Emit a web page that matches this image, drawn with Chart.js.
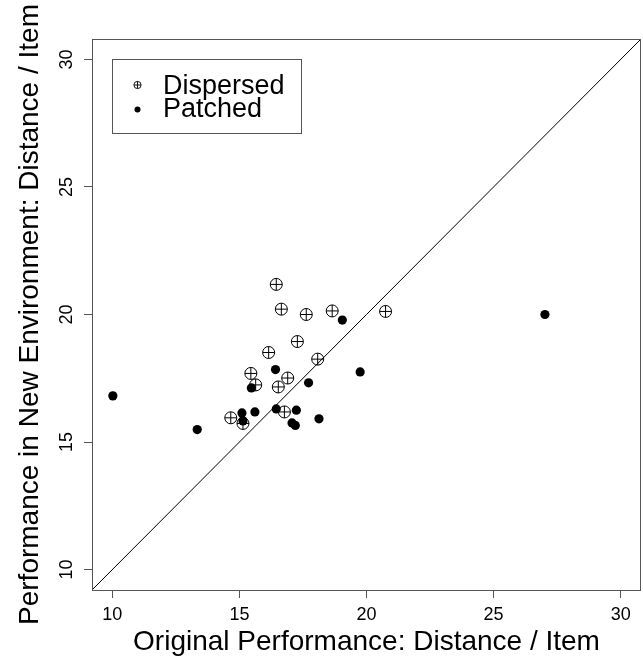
<!DOCTYPE html>
<html>
<head>
<meta charset="utf-8">
<script src="https://cdn.jsdelivr.net/npm/chart.js@4/dist/chart.umd.min.js"></script>
<style>
  html, body { margin: 0; padding: 0; background: #fff; overflow: hidden; }
  #wrap { width: 643px; height: 659px; position: relative; }
</style>
</head>
<body>
<div id="wrap"><canvas id="myChart"></canvas></div>
<script>
// values
const dispersedX = [16.45, 16.65, 17.63, 18.65, 20.75, 17.28, 16.15, 18.08, 15.45, 15.64, 16.90, 16.53, 16.77, 14.66, 15.14];
const dispersedY = [21.18, 20.21, 20.00, 20.14, 20.12, 18.94, 18.51, 18.25, 17.69, 17.24, 17.51, 17.16, 16.18, 15.95, 15.73];
const patchedX = [19.05, 19.75, 16.42, 15.47, 17.72, 15.10, 15.61, 16.45, 17.24, 15.14, 18.13, 17.07, 17.20, 13.34, 10.02, 27.02];
const patchedY = [19.78, 17.75, 17.84, 17.12, 17.32, 16.14, 16.18, 16.30, 16.25, 15.83, 15.91, 15.75, 15.65, 15.49, 16.81, 20.00];
const tickValues = [10, 15, 20, 25, 30];
const axisMin = 9.2;
const axisMax = 30.8;
const legendLabels = ['Dispersed', 'Patched'];

const FONT = '"Liberation Sans", Arial, Helvetica, sans-serif';
const INK = '#000';
const FRAME = '#555';

function toPoints(xs, ys) {
	return xs.map((x, i) => ({ x: x, y: ys[i] }));
}

Chart.defaults.font.family = FONT;
Chart.defaults.color = INK;

// box round the plot, y tick labels turned like R does, and the legend
const rStyle = {
	id: 'rStyle',
	afterDraw(chart) {
		const ctx = chart.ctx;
		const a = chart.chartArea;
		const yScale = chart.scales.y;
		ctx.save();

		ctx.strokeStyle = FRAME;
		ctx.lineWidth = 1;
		ctx.strokeRect(Math.round(a.left) + 0.5, Math.round(a.top) + 0.5,
			Math.round(a.right - a.left) - 1, Math.round(a.bottom - a.top));

		ctx.fillStyle = INK;
		ctx.font = '18px ' + FONT;
		ctx.textAlign = 'center';
		ctx.textBaseline = 'alphabetic';
		tickValues.forEach(v => {
			const py = yScale.getPixelForValue(v);
			ctx.save();
			ctx.translate(72, py);
			ctx.rotate(-Math.PI / 2);
			ctx.fillText(String(v), 0, 0);
			ctx.restore();
		});

		// legend
		ctx.strokeStyle = FRAME;
		ctx.strokeRect(112.5, 59.5, 189, 74);
		ctx.font = '27px ' + FONT;
		ctx.textAlign = 'left';
		ctx.fillText(legendLabels[0], 163, 94);
		ctx.fillText(legendLabels[1], 163, 117);

		ctx.strokeStyle = INK;
		ctx.lineWidth = 0.9;
		ctx.beginPath();
		ctx.arc(137.5, 85, 3.6, 0, Math.PI * 2);
		ctx.moveTo(133.9, 85); ctx.lineTo(141.1, 85);
		ctx.moveTo(137.5, 81.4); ctx.lineTo(137.5, 88.6);
		ctx.stroke();
		ctx.beginPath();
		ctx.arc(137.5, 109.5, 3, 0, Math.PI * 2);
		ctx.fill();

		ctx.restore();
	}
};

const axisCommon = {
	type: 'linear',
	min: axisMin,
	max: axisMax,
	afterBuildTicks: scale => {
		scale.ticks = tickValues.map(v => ({ value: v }));
	},
	grid: {
		drawOnChartArea: false,
		drawTicks: true,
		tickLength: 8,
		color: FRAME,
		lineWidth: 1
	},
	border: { display: false }
};

const ctx = document.getElementById('myChart').getContext('2d');
const myChart = new Chart(ctx, {
	type: 'scatter',
	data: {
		datasets: [
			{
				label: 'Patched',
				data: toPoints(patchedX, patchedY),
				pointStyle: 'circle',
				pointRadius: 4.6,
				pointBorderWidth: 0,
				backgroundColor: INK,
				borderColor: INK,
				order: 0
			},
			{
				label: 'Dispersed',
				data: toPoints(dispersedX, dispersedY),
				pointStyle: 'circle',
				pointRadius: 6,
				pointBorderWidth: 1,
				backgroundColor: 'rgba(0,0,0,0)',
				borderColor: INK,
				order: 1
			},
			{
				label: 'Dispersed cross',
				data: toPoints(dispersedX, dispersedY),
				pointStyle: 'cross',
				pointRadius: 6,
				pointBorderWidth: 1,
				borderColor: INK,
				order: 2
			},
			{
				// y = x reference line
				type: 'line',
				label: 'y = x',
				data: [{ x: axisMin, y: axisMin }, { x: axisMax, y: axisMax }],
				borderColor: INK,
				borderWidth: 1,
				pointRadius: 0,
				fill: false,
				order: 3
			}
		]
	},
	options: {
		responsive: true,
		maintainAspectRatio: false,
		animation: false,
		layout: { autoPadding: false, padding: { top: 39, right: 2, left: 0, bottom: 0 } },
		plugins: {
			legend: { display: false },
			tooltip: { enabled: false }
		},
		scales: {
			x: Object.assign({}, axisCommon, {
				position: 'bottom',
				afterFit: scale => { scale.height = 69; },
				ticks: { font: { size: 18 }, color: INK, padding: 6, maxRotation: 0, autoSkip: false },
				title: {
					display: true,
					text: 'Original Performance: Distance / Item',
					font: { size: 28, lineHeight: 1 },
					color: INK,
					padding: { top: 0, bottom: 3 }
				}
			}),
			y: Object.assign({}, axisCommon, {
				position: 'left',
				afterFit: scale => { scale.width = 92; },
				ticks: { display: false },
				title: {
					display: true,
					text: 'Performance in New Environment: Distance / Item',
					font: { size: 28, lineHeight: 1 },
					color: INK,
					padding: { top: 16, bottom: 0 }
				}
			})
		}
	},
	plugins: [rStyle]
});
</script>
</body>
</html>
